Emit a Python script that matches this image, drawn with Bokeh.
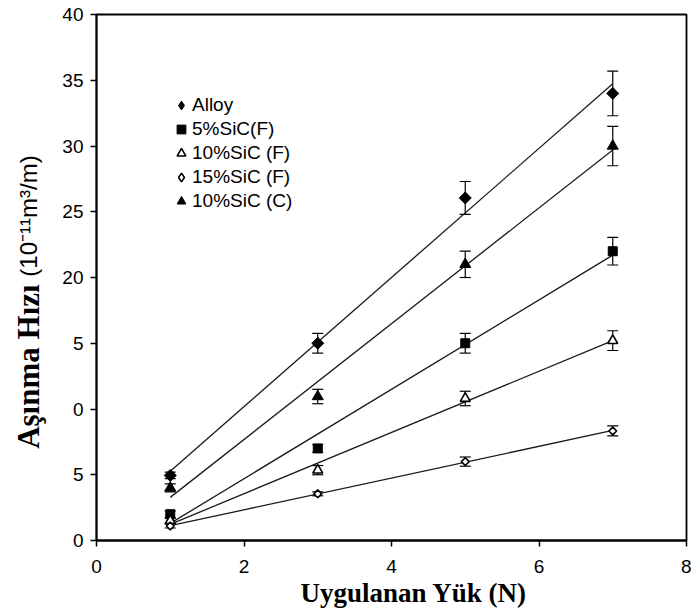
import numpy as np
from bokeh.plotting import figure
from bokeh.layouts import row
from bokeh.models import (Range1d, Label, Whisker, ColumnDataSource, FixedTicker,
                          TeeHead, Legend, LegendItem, Title)
from bokeh.embed import file_html
from bokeh.resources import INLINE

# ---------------- data ----------------
loads = [1, 3, 5, 7]
alloy = [4.95, 15.0, 26.05, 34.0]
alloy_err = [0.25, 0.75, 1.25, 1.7]
sic5_f = [2.0, 7.0, 15.0, 22.0]
sic5_f_err = [0.25, 0.3, 0.75, 1.05]
sic10_f = [1.5, 5.35, 10.8, 15.2]
sic10_f_err = [0.2, 0.35, 0.55, 0.75]
sic15_f = [1.1, 3.55, 6.0, 8.33]
sic15_f_err = [0.15, 0.15, 0.35, 0.38]
sic10_c = [4.0, 10.95, 21.0, 30.0]
sic10_c_err = [0.3, 0.55, 1.0, 1.5]

series_names = ["Alloy", "5%SiC(F)", "10%SiC (F)", "15%SiC (F)", "10%SiC (C)"]
x_ticks = [0, 2, 4, 6, 8]
y_ticks = [0, 5, 10, 15, 20, 25, 30, 35, 40]
y_tick_labels = ["0", "5", "0", "5", "20", "25", "30", "35", "40"]
x_title = "Uygulanan Yük (N)"
y_title_a = "Aşınma Hızı "
y_title_b = "(10⁻¹¹m³/m)"

SANS = "Liberation Sans"
SERIF = "Liberation Serif"

STRIP_W = 50
W, H = 691, 608

p = figure(width=W - STRIP_W, height=H, output_backend="svg", toolbar_location=None,
           x_range=Range1d(0, 8), y_range=Range1d(0, 40),
           min_border_left=96 - STRIP_W, min_border_right=5, min_border_top=14,
           min_border_bottom=68)
p.xgrid.visible = False
p.ygrid.visible = False
p.outline_line_color = "black"
p.outline_line_width = 1.8
p.background_fill_color = "white"
p.border_fill_color = "white"

for ax in (p.xaxis[0], p.yaxis[0]):
    ax.axis_line_width = 1.8
    ax.axis_line_color = "black"
    ax.major_tick_line_color = "black"
    ax.major_tick_line_width = 1.5
    ax.major_tick_in = 0
    ax.major_tick_out = 6
    ax.minor_tick_line_color = None
    ax.major_label_text_font = SANS
    ax.major_label_text_font_size = "19px"
    ax.major_label_text_color = "black"
    ax.major_label_standoff = 7
p.xaxis.major_label_standoff = 13

p.xaxis.ticker = FixedTicker(ticks=x_ticks)
p.yaxis.ticker = FixedTicker(ticks=y_ticks)
p.yaxis.major_label_overrides = {t: l for t, l in zip(y_ticks, y_tick_labels)}

datasets = [
    (alloy, alloy_err, dict(marker="square", angle=np.pi / 4, size=8.5, fill_color="black", line_color="black", line_width=1), "diamond", "black"),
    (sic5_f, sic5_f_err, dict(marker="square", size=9, fill_color="black", line_color="black", line_width=1), "square", "black"),
    (sic10_f, sic10_f_err, dict(marker="triangle", size=10, fill_color="white", line_color="black", line_width=1.6), "triangle", "white"),
    (sic15_f, sic15_f_err, dict(marker="square", angle=np.pi / 4, size=5.5, fill_color="white", line_color="black", line_width=1.6), "diamond", "white"),
    (sic10_c, sic10_c_err, dict(marker="triangle", size=11, fill_color="black", line_color="black", line_width=1), "triangle", "black"),
]

legend_items = []
fit_x = np.array([min(loads), max(loads)], dtype=float)
for (vals, errs, style, leg_marker, leg_fill), name in zip(datasets, series_names):
    v = np.array(vals)
    e = np.array(errs)
    src = ColumnDataSource(dict(x=loads, y=vals, lo=(v - e).tolist(), hi=(v + e).tolist()))
    w = Whisker(base="x", lower="lo", upper="hi", source=src, level="underlay",
                line_color="black", line_width=1.2,
                upper_head=TeeHead(size=11, line_color="black", line_width=1.2),
                lower_head=TeeHead(size=11, line_color="black", line_width=1.2))
    p.add_layout(w)
    k, b = np.polyfit(loads, vals, 1)
    p.line(fit_x, k * fit_x + b, line_color="#1a1a1a", line_width=1.3)
    lr = p.scatter("x", "y", source=src, marker=leg_marker, size=4,
                   fill_color=leg_fill, line_color="black",
                   line_width=style.get("line_width", 1))
    p.scatter("x", "y", source=src, **style)
    legend_items.append(LegendItem(label=name, renderers=[lr]))

legend = Legend(items=legend_items, location=(74, 328), orientation="vertical",
                glyph_width=22, glyph_height=22, label_standoff=0, spacing=2,
                padding=0, margin=0, border_line_color=None, background_fill_alpha=0,
                label_text_font=SANS, label_text_font_size="19px",
                label_text_color="black", label_height=22)
p.add_layout(legend, "center")

# x-axis title (below the tick labels)
xt = Title(text=x_title, align="left", offset=204, text_font=SERIF, text_font_style="bold",
           text_font_size="27px", text_color="black", standoff=0, text_line_height=0.8)
p.add_layout(xt, "below")

# left strip carrying the two-font y-axis title
s = figure(width=STRIP_W, height=H, output_backend="svg", toolbar_location=None,
           x_range=Range1d(0, STRIP_W), y_range=Range1d(0, H),
           min_border=0, x_axis_location=None, y_axis_location=None)
s.xgrid.visible = False
s.ygrid.visible = False
s.outline_line_color = None
s.border_fill_color = "white"
s.add_layout(Label(x=28, y=H - 303, text=y_title_a, angle=np.pi / 2, text_align="right",
                   text_baseline="middle", text_font=SERIF, text_font_style="bold",
                   text_font_size="31px", text_color="black"))
s.add_layout(Label(x=28, y=H - 303, text=y_title_b, angle=np.pi / 2, text_align="left",
                   text_baseline="middle", text_font=SANS, text_font_size="24px",
                   text_color="black"))

layout = row(s, p, spacing=0)
open("out.html", "w").write(file_html(layout, INLINE))
